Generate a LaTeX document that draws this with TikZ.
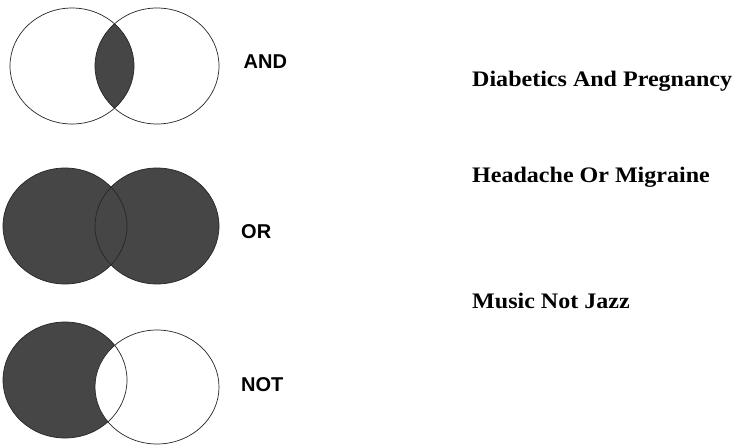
\documentclass[tikz,border=0pt]{standalone}
\usepackage{fontspec}
\usepackage{graphicx}
\newfontfamily\arialf{Liberation Sans}
\newfontfamily\tnrf{Liberation Serif}
\definecolor{vfill}{RGB}{70,70,70}
\newcommand{\widetext}[1]{\scalebox{1.085}[1]{#1}}
\tikzset{
  venn/.style={draw=black!85, line width=0.7pt},
  oplabel/.style={anchor=base west, inner sep=0pt, font=\arialf\bfseries\fontsize{20}{22}\selectfont},
  exlabel/.style={anchor=base west, inner sep=0pt, font=\tnrf\bfseries\fontsize{22.15}{26}\selectfont},
}
\begin{document}
\begin{tikzpicture}[x=1pt,y=-1pt]
\useasboundingbox (0,0) rectangle (735,444);
% AND
\begin{scope}
  \clip (72,66) ellipse [x radius=62, y radius=58];
  \fill[vfill] (157,66) ellipse [x radius=62, y radius=58];
\end{scope}
\draw[venn] (72,66) ellipse [x radius=62, y radius=58];
\draw[venn] (157,66) ellipse [x radius=62, y radius=58];
% OR
\fill[vfill] (65,226) ellipse [x radius=62, y radius=58];
\fill[vfill] (157,226) ellipse [x radius=62, y radius=58];
\draw[venn] (65,226) ellipse [x radius=62, y radius=58];
\draw[venn] (157,226) ellipse [x radius=62, y radius=58];
% NOT
\fill[vfill] (65,380) ellipse [x radius=62, y radius=58];
\fill[white] (157,387) ellipse [x radius=62, y radius=57];
\draw[venn] (65,380) ellipse [x radius=62, y radius=58];
\draw[venn] (157,387) ellipse [x radius=62, y radius=57];
% labels
\node[oplabel] (and) at (243.5,68.5) {AND};
\node[oplabel] (or) at (241,238) {OR};
\node[oplabel] (not) at (241,391.5) {NOT};
\node[exlabel] (ex1) at (472,86) {\widetext{Diabetics And Pregnancy}};
\node[exlabel] (ex2) at (472,182) {\widetext{Headache Or Migraine}};
\node[exlabel] (ex3) at (472,308) {\widetext{Music Not Jazz}};
\end{tikzpicture}
\end{document}
